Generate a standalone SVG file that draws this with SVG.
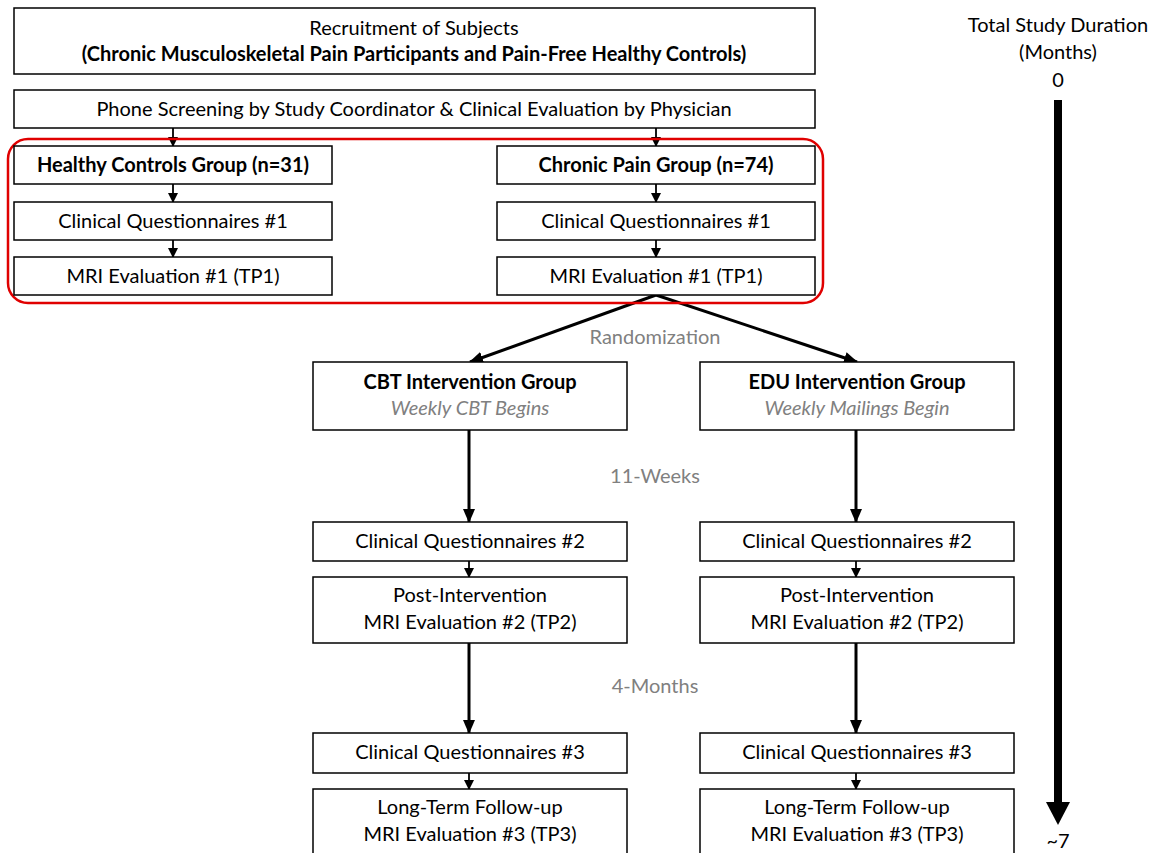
<svg xmlns="http://www.w3.org/2000/svg" width="1163" height="853" viewBox="0 0 1163 853">
<defs>
<style>
.box{fill:#fff;stroke:#000;stroke-width:1.5}
text{font-family:Lato,"Liberation Sans",sans-serif;font-size:20px;fill:#000;text-anchor:middle}
.b{font-weight:bold}
.g{fill:#808080}
.gi{fill:#808080;font-style:italic}
.c{stroke:#000;fill:none}
.thin{stroke-width:1.8}
.thick{stroke-width:3}
</style>
<marker id="ah" markerUnits="userSpaceOnUse" markerWidth="10" markerHeight="10" refX="9" refY="5" orient="auto">
<path d="M0,0 L10,5 L0,10 Z" fill="#000"/>
</marker>
<marker id="ah2" markerUnits="userSpaceOnUse" markerWidth="14" markerHeight="12" refX="13" refY="6" orient="auto">
<path d="M0,0 L14,6 L0,12 Z" fill="#000"/>
</marker>
</defs>
<rect width="1163" height="853" fill="#fff"/>

<g id="connectors">
<line class="c thin" x1="173" y1="128" x2="173" y2="146" marker-end="url(#ah)"/>
<line class="c thin" x1="656" y1="128" x2="656" y2="146" marker-end="url(#ah)"/>
<line class="c thin" x1="173" y1="184" x2="173" y2="202" marker-end="url(#ah)"/>
<line class="c thin" x1="173" y1="240" x2="173" y2="257" marker-end="url(#ah)"/>
<line class="c thin" x1="656" y1="184" x2="656" y2="202" marker-end="url(#ah)"/>
<line class="c thin" x1="656" y1="240" x2="656" y2="257" marker-end="url(#ah)"/>
<line class="c thick" x1="656" y1="295" x2="470" y2="362" marker-end="url(#ah2)"/>
<line class="c thick" x1="656" y1="295" x2="857" y2="362" marker-end="url(#ah2)"/>
<line class="c thick" x1="469" y1="430" x2="469" y2="522" marker-end="url(#ah2)"/>
<line class="c thick" x1="856" y1="430" x2="856" y2="522" marker-end="url(#ah2)"/>
<line class="c thin" x1="469" y1="561" x2="469" y2="577" marker-end="url(#ah)"/>
<line class="c thin" x1="856" y1="561" x2="856" y2="577" marker-end="url(#ah)"/>
<line class="c thick" x1="469" y1="643" x2="469" y2="733" marker-end="url(#ah2)"/>
<line class="c thick" x1="856" y1="643" x2="856" y2="733" marker-end="url(#ah2)"/>
<line class="c thin" x1="469" y1="773" x2="469" y2="789" marker-end="url(#ah)"/>
<line class="c thin" x1="856" y1="773" x2="856" y2="789" marker-end="url(#ah)"/>
</g>

<g id="recruitment">
<rect class="box" x="14" y="8" width="801" height="66"/>
<text x="414" y="35">Recruitment of Subjects</text>
<text class="b" x="414" y="61">(Chronic Musculoskeletal Pain Participants and Pain-Free Healthy Controls)</text>
</g>
<g id="screening">
<rect class="box" x="14" y="90" width="801" height="38"/>
<text x="414" y="116">Phone Screening by Study Coordinator &amp; Clinical Evaluation by Physician</text>
</g>

<g id="baseline-group">
<rect x="8" y="139" width="815" height="164" rx="20" ry="20" fill="none" stroke="#e00000" stroke-width="2.5"/>
</g>

<g id="hc-group">
<rect class="box" x="14" y="146" width="318" height="38"/>
<text class="b" x="173" y="172">Healthy Controls Group (n=31)</text>
</g>
<g id="hc-cq1">
<rect class="box" x="14" y="202" width="318" height="38"/>
<text x="173" y="228">Clinical Questionnaires #1</text>
</g>
<g id="hc-mri1">
<rect class="box" x="14" y="257" width="318" height="38"/>
<text x="173" y="283">MRI Evaluation #1 (TP1)</text>
</g>

<g id="cp-group">
<rect class="box" x="497" y="146" width="318" height="38"/>
<text class="b" x="656" y="172">Chronic Pain Group (n=74)</text>
</g>
<g id="cp-cq1">
<rect class="box" x="497" y="202" width="318" height="38"/>
<text x="656" y="228">Clinical Questionnaires #1</text>
</g>
<g id="cp-mri1">
<rect class="box" x="497" y="257" width="318" height="38"/>
<text x="656" y="283">MRI Evaluation #1 (TP1)</text>
</g>

<g id="label-randomization"><text class="g" x="655" y="344">Randomization</text></g>
<g id="label-11weeks"><text class="g" x="655" y="483">11-Weeks</text></g>
<g id="label-4months"><text class="g" x="655" y="693">4-Months</text></g>

<g id="cbt-group">
<rect class="box" x="313" y="362" width="314" height="68"/>
<text class="b" x="470" y="389">CBT Intervention Group</text>
<text class="gi" x="470" y="415">Weekly CBT Begins</text>
</g>
<g id="edu-group">
<rect class="box" x="700" y="362" width="314" height="68"/>
<text class="b" x="857" y="389">EDU Intervention Group</text>
<text class="gi" x="857" y="415">Weekly Mailings Begin</text>
</g>

<g id="cbt-cq2">
<rect class="box" x="313" y="522" width="314" height="39"/>
<text x="470" y="548">Clinical Questionnaires #2</text>
</g>
<g id="edu-cq2">
<rect class="box" x="700" y="522" width="314" height="39"/>
<text x="857" y="548">Clinical Questionnaires #2</text>
</g>
<g id="cbt-mri2">
<rect class="box" x="313" y="577" width="314" height="66"/>
<text x="470" y="602">Post-Intervention</text>
<text x="470" y="629">MRI Evaluation #2 (TP2)</text>
</g>
<g id="edu-mri2">
<rect class="box" x="700" y="577" width="314" height="66"/>
<text x="857" y="602">Post-Intervention</text>
<text x="857" y="629">MRI Evaluation #2 (TP2)</text>
</g>

<g id="cbt-cq3">
<rect class="box" x="313" y="733" width="314" height="40"/>
<text x="470" y="759">Clinical Questionnaires #3</text>
</g>
<g id="edu-cq3">
<rect class="box" x="700" y="733" width="314" height="40"/>
<text x="857" y="759">Clinical Questionnaires #3</text>
</g>
<g id="cbt-mri3">
<rect class="box" x="313" y="789" width="314" height="70"/>
<text x="470" y="814">Long-Term Follow-up</text>
<text x="470" y="841">MRI Evaluation #3 (TP3)</text>
</g>
<g id="edu-mri3">
<rect class="box" x="700" y="789" width="314" height="70"/>
<text x="857" y="814">Long-Term Follow-up</text>
<text x="857" y="841">MRI Evaluation #3 (TP3)</text>
</g>

<g id="timeline">
<text x="1058" y="32">Total Study Duration</text>
<text x="1058" y="59">(Months)</text>
<text x="1058" y="87">0</text>
<rect x="1054" y="100" width="8" height="704" fill="#000"/>
<path d="M1046,802 L1070,802 L1058,825 Z" fill="#000"/>
<text x="1058" y="848">~7</text>
</g>
</svg>
